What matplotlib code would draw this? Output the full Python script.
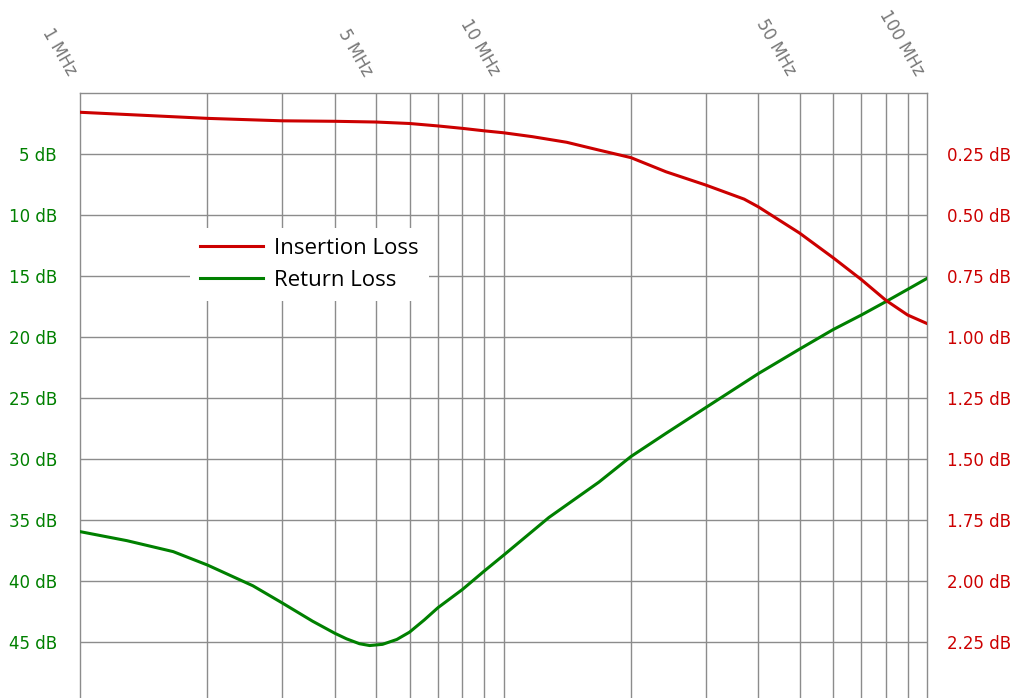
import matplotlib
matplotlib.use("Agg")
import matplotlib.pyplot as plt
from matplotlib.ticker import FixedLocator, NullLocator

# Data (frequency in MHz)
il_freq = [1, 2, 3, 4, 5, 6, 7, 8, 9, 10, 11.7, 14.1, 16.8, 20, 24.2, 30, 37.0, 40, 50, 60, 70, 80, 90, 100]
il_db = [0.079, 0.104, 0.114, 0.116, 0.119, 0.125, 0.135, 0.145, 0.155, 0.163, 0.179, 0.202, 0.234,
         0.265, 0.323, 0.377, 0.435, 0.467, 0.574, 0.675, 0.765, 0.85, 0.91, 0.945]

rl_freq = [1, 1.29, 1.66, 2, 2.56, 3, 3.54, 4, 4.26, 4.57, 4.83, 5.18, 5.6, 6, 6.5, 7, 8, 9,
           10, 12.8, 16.8, 20, 24.2, 30, 40, 50, 60, 70, 80, 90, 100]
rl_db = [35.96, 36.7, 37.6, 38.7, 40.4, 41.8, 43.3, 44.3, 44.75, 45.15, 45.3, 45.2, 44.8, 44.2, 43.2,
         42.2, 40.7, 39.2, 37.9, 34.8, 31.9, 29.8, 27.9, 25.8, 23.0, 21.0, 19.4, 18.2, 17.1, 16.1, 15.2]

x_ticks = [1, 5, 10, 50, 100]
x_labels = ["1 MHz", "5 MHz", "10 MHz", "50 MHz", "100 MHz"]
left_ticks = [5, 10, 15, 20, 25, 30, 35, 40, 45]
left_labels = ["5 dB", "10 dB", "15 dB", "20 dB", "25 dB", "30 dB", "35 dB", "40 dB", "45 dB"]
right_ticks = [0.25, 0.50, 0.75, 1.00, 1.25, 1.50, 1.75, 2.00, 2.25]
right_labels = ["0.25 dB", "0.50 dB", "0.75 dB", "1.00 dB", "1.25 dB", "1.50 dB", "1.75 dB", "2.00 dB", "2.25 dB"]

RED = "#cc0000"
GREEN = "#008000"
GRID = "#8c8c8c"

plt.rcParams['font.family'] = ['DejaVu Sans']

fig = plt.figure(figsize=(10.19, 6.98), dpi=100)
ax = fig.add_axes([80/1019, 0.0, (927-80)/1019, 1 - 93/698])
ax2 = ax.twinx()

ymax_left = 49.6
ax.set_xscale("log")
ax.set_xlim(1, 100)
ax.set_ylim(ymax_left, 0)
ax2.set_ylim(ymax_left / 20, 0)

# grid
minor_x = [2, 3, 4, 6, 7, 8, 9, 20, 30, 40, 60, 70, 80, 90]
for xv in minor_x + x_ticks[1:-1]:
    ax.axvline(xv, color=GRID, lw=1.0, zorder=0)
for yv in left_ticks:
    ax.axhline(yv, color=GRID, lw=1.0, zorder=0)

for a in (ax, ax2):
    for s in a.spines.values():
        s.set_visible(False)
for side in ("top", "left", "right"):
    ax.spines[side].set_visible(True)
    ax.spines[side].set_color(GRID)
    ax.spines[side].set_linewidth(1.0)

l_rl, = ax.plot(rl_freq, rl_db, color=GREEN, lw=2.2, label="Return Loss", zorder=3)
l_il, = ax2.plot(il_freq, il_db, color=RED, lw=2.2, label="Insertion Loss", zorder=3)

# x ticks on top
ax.xaxis.tick_top()
ax.xaxis.set_major_locator(FixedLocator(x_ticks))
ax.xaxis.set_minor_locator(NullLocator())
ax.set_xticklabels(x_labels, rotation=-60, ha="right", va="top", rotation_mode="anchor",
                   color="#777777", fontsize=12)
ax.tick_params(axis="x", which="both", length=0, pad=16.5)

ax.yaxis.set_major_locator(FixedLocator(left_ticks))
ax.set_yticklabels(left_labels, color=GREEN, fontsize=12)
ax.tick_params(axis="y", length=0, pad=16.5)

ax2.yaxis.set_major_locator(FixedLocator(right_ticks))
ax2.set_yticklabels(right_labels, color=RED, fontsize=12)
ax2.tick_params(axis="y", length=0, pad=14.5)

ax2.set_zorder(ax.get_zorder() + 1)
ax2.patch.set_visible(False)
leg = ax2.legend(handles=[l_il, l_rl], loc="upper left",
                 bbox_to_anchor=((190-80)/847, (698-228)/605),
                 frameon=True, fancybox=False, edgecolor="none", framealpha=1.0,
                 prop={"family": "Open Sans", "size": 16}, handlelength=2.85, handletextpad=0.5,
                 labelspacing=0.5, borderpad=0.45, borderaxespad=0)

fig.savefig("out.png", dpi=100)
